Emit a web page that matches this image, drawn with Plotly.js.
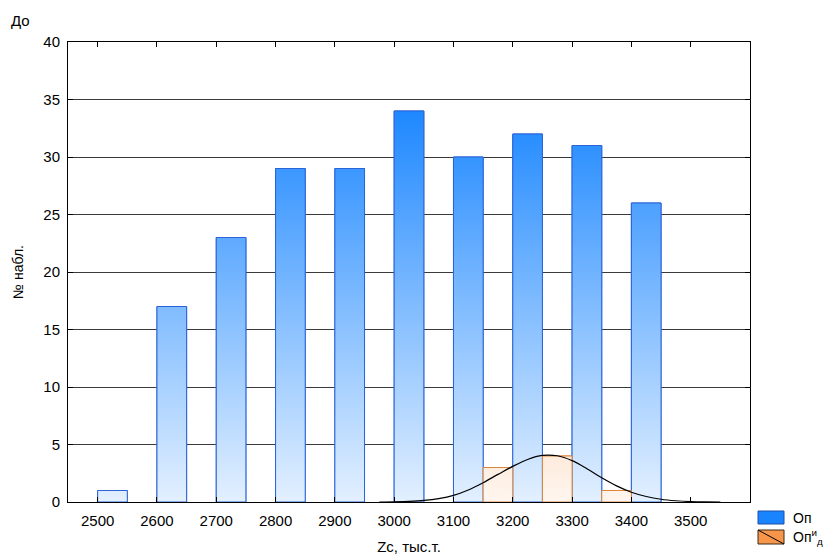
<!DOCTYPE html>
<html>
<head>
<meta charset="utf-8">
<script src="https://cdn.plot.ly/plotly-3.0.1.min.js"></script>
<style>html,body{margin:0;padding:0;background:#fff;}#chart{width:827px;height:555px;}</style>
</head>
<body>
<div id="chart"></div>
<script>
// ---- data ----
const categories = [2500, 2600, 2700, 2800, 2900, 3000, 3100, 3200, 3300, 3400];
const opValues   = [1, 17, 23, 29, 29, 34, 30, 32, 31, 26];
const opIdCategories = [3100, 3200, 3300];
const opIdValues     = [3, 4, 1];
const curveX = [2975, 3000, 3025, 3050, 3075, 3100, 3125, 3150, 3175, 3200, 3225, 3250, 3275, 3300, 3325, 3350, 3375, 3400, 3425, 3450, 3475, 3500, 3525, 3550];
const curveY = [0.0, 0.02, 0.06, 0.14, 0.3, 0.58, 1.05, 1.68, 2.4, 3.1, 3.7, 4.05, 4.02, 3.6, 2.9, 2.1, 1.4, 0.85, 0.48, 0.24, 0.11, 0.04, 0.01, 0.0];
const xTickVals = [2500, 2600, 2700, 2800, 2900, 3000, 3100, 3200, 3300, 3400, 3500];
const yTickVals = [0, 5, 10, 15, 20, 25, 30, 35, 40];

// ---- styling constants ----
const BAR_W = 50;
const OP_OFFSET = 0;
const OPID_OFFSET = 50;
const blueScale = [[0, '#E3F0FF'], [1, '#1E88FF']];
const orangeScale = [[0, '#FFF6EF'], [1, '#F28A36']];
const blueLine = '#2A64D8';
const orangeLine = '#D9853A';
const FONT = 'Liberation Sans, Arial, sans-serif';

const traces = [];
// bar traces (outlines underneath)
traces.push({
  type: 'bar', x: categories, y: opValues, offset: OP_OFFSET, width: BAR_W,
  marker: {color: 'rgba(0,0,0,0)', line: {color: blueLine, width: 1}},
  name: 'Оп', showlegend: false, hoverinfo: 'x+y'
});
traces.push({
  type: 'bar', x: opIdCategories, y: opIdValues, offset: OPID_OFFSET, width: BAR_W,
  marker: {color: 'rgba(0,0,0,0)', line: {color: orangeLine, width: 1}},
  name: 'Опид', showlegend: false, hoverinfo: 'x+y'
});
// gradient fills drawn on the same axes from the same arrays
function gradientBars(cats, vals, offset, scale, lineColor, stop) {
  cats.forEach(function (c, i) {
    const x0 = c + offset, x1 = c + offset + BAR_W;
    traces.push({
      type: 'scatter', mode: 'lines',
      x: [x0, x0, x1, x1, x0], y: [0, vals[i], vals[i], 0, 0],
      fill: 'toself',
      fillgradient: {type: 'vertical', colorscale: scale, start: 0, stop: stop},
      line: {color: lineColor, width: 1},
      showlegend: false, hoverinfo: 'skip'
    });
  });
}
gradientBars(categories, opValues, OP_OFFSET, blueScale, blueLine, 34);
gradientBars(opIdCategories, opIdValues, OPID_OFFSET, orangeScale, orangeLine, 40);

traces.push({
  type: 'scatter', mode: 'lines', x: curveX, y: curveY,
  line: {color: '#000', width: 1.2, shape: 'spline', smoothing: 1},
  showlegend: false, hoverinfo: 'skip'
});

// legend geometry (pixels -> paper)
const L = 68, R = 750, T = 42, B = 502;
const px = v => (v - L) / (R - L);
const py = v => (B - v) / (B - T);

const layout = {
  width: 827, height: 555,
  margin: {l: L, r: 827 - R, t: T, b: 555 - B},
  paper_bgcolor: '#fff', plot_bgcolor: '#fff',
  font: {family: FONT, size: 15, color: '#000'},
  showlegend: false,
  bargap: 0,
  xaxis: {
    range: [2450, 3600], tickvals: xTickVals, ticktext: xTickVals.map(String),
    ticks: 'inside', ticklen: 5, tickcolor: '#000', tickwidth: 1,
    showline: true, linecolor: '#000', linewidth: 1, mirror: 'ticks',
    showgrid: false, zeroline: false,
    tickfont: {family: FONT, size: 15, color: '#000'},
    ticklabelstandoff: 5,
    title: {text: 'Zc, тыс.т.', font: {family: FONT, size: 15, color: '#000'}, standoff: 16}
  },
  yaxis: {
    range: [0, 40], tickvals: yTickVals,
    ticks: 'inside', ticklen: 5, tickcolor: '#000', tickwidth: 1,
    showline: true, linecolor: '#000', linewidth: 1, mirror: 'ticks',
    showgrid: true, gridcolor: '#3a3a3a', gridwidth: 1, zeroline: false,
    tickfont: {family: FONT, size: 15, color: '#000'},
    ticklabelstandoff: 4,
    title: {text: '№ набл.', font: {family: FONT, size: 14, color: '#000'}, standoff: 16}
  },
  shapes: [
    {type: 'rect', xref: 'paper', yref: 'paper', x0: px(758), x1: px(784), y0: py(511), y1: py(524),
     fillcolor: '#1A84FF', line: {color: '#1C4FA8', width: 1}},
    {type: 'rect', xref: 'paper', yref: 'paper', x0: px(758), x1: px(784), y0: py(530), y1: py(544),
     fillcolor: '#F7964A', line: {color: '#3a2a1a', width: 1}},
    {type: 'line', xref: 'paper', yref: 'paper', x0: px(758), x1: px(784), y0: py(530), y1: py(544),
     line: {color: '#000', width: 1}}
  ],
  annotations: [
    {xref: 'paper', yref: 'paper', x: px(791), y: py(518), xanchor: 'left', yanchor: 'middle',
     text: 'Оп', showarrow: false, font: {family: FONT, size: 14, color: '#000'}},
    {xref: 'paper', yref: 'paper', x: px(791), y: py(537), xanchor: 'left', yanchor: 'middle',
     text: 'Оп<sup>и</sup><sub>д</sub>', showarrow: false, font: {family: FONT, size: 14, color: '#000'}},
    {xref: 'paper', yref: 'paper', x: px(9), y: py(20), xanchor: 'left', yanchor: 'middle',
     text: 'До', showarrow: false, font: {family: FONT, size: 15, color: '#000'}}
  ]
};

Plotly.newPlot('chart', traces, layout, {displayModeBar: false, staticPlot: true});
</script>
</body>
</html>
